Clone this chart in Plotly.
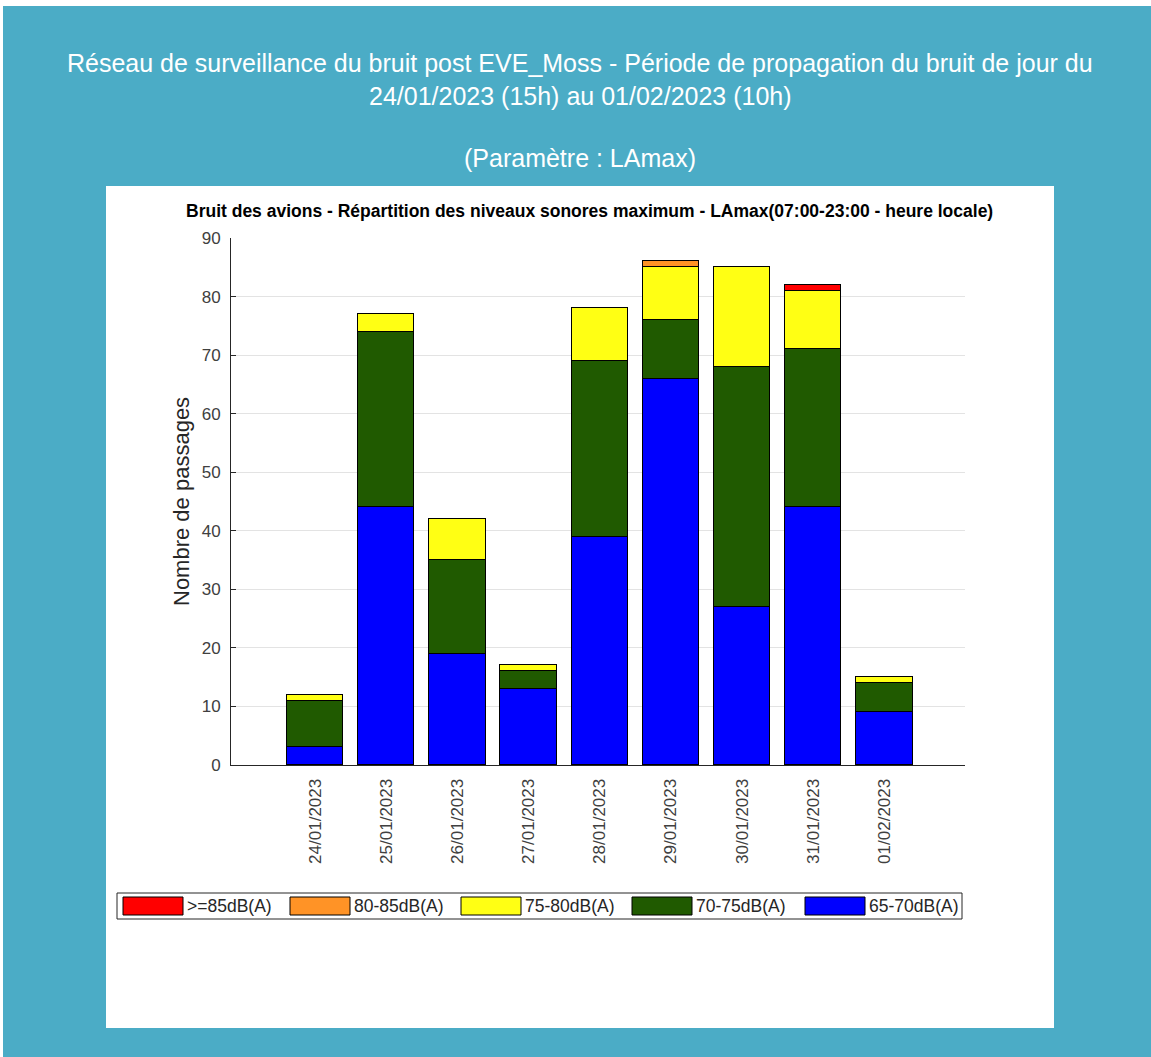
import plotly.graph_objects as go

# Data
dates = ["24/01/2023", "25/01/2023", "26/01/2023", "27/01/2023", "28/01/2023",
         "29/01/2023", "30/01/2023", "31/01/2023", "01/02/2023"]
n_65_70 = [3, 44, 19, 13, 39, 66, 27, 44, 9]
n_70_75 = [8, 30, 16, 3, 30, 10, 41, 27, 5]
n_75_80 = [1, 3, 7, 1, 9, 9, 17, 10, 1]
n_80_85 = [0, 0, 0, 0, 0, 1, 0, 0, 0]
n_85_up = [0, 0, 0, 0, 0, 0, 0, 1, 0]
classes = ["65-70dB(A)", "70-75dB(A)", "75-80dB(A)", "80-85dB(A)", ">=85dB(A)"]
colors = ["#0000FF", "#205A00", "#FFFF14", "#FF9326", "#FF0000"]

TEAL = "#4BACC6"
TXT = "#262626"
TICK = "#404040"
FONT = "Liberation Sans, Arial"

# page geometry (body margin removed in post_script)
W, H = 1151, 1057
L, R, T, B = 231, 186, 238, 292
PW, PH = W - L - R, H - T - B


def px(x):
    return (x - L) / PW


def py(y):
    return (H - B - y) / PH


fig = go.Figure()
for vals, name, col in zip([n_65_70, n_70_75, n_75_80, n_80_85, n_85_up], classes, colors):
    fig.add_trace(go.Bar(
        x=list(range(len(dates))), y=vals, name=name,
        marker=dict(color=col, line=dict(color="black", width=1)),
        width=0.79, showlegend=False,
    ))

shapes = [
    # thin white border of the original image
    dict(type="rect", xref="paper", yref="paper", layer="below",
         x0=px(0), x1=px(W), y0=py(6), y1=py(0), fillcolor="white", line=dict(width=0)),
    dict(type="rect", xref="paper", yref="paper", layer="below",
         x0=px(0), x1=px(3), y0=py(H), y1=py(0), fillcolor="white", line=dict(width=0)),
    # white panel behind the axes
    dict(type="rect", xref="paper", yref="paper", layer="below",
         x0=px(106), x1=px(1054), y0=py(1028), y1=py(186),
         fillcolor="white", line=dict(width=0)),
    # legend box
    dict(type="rect", xref="paper", yref="paper",
         x0=px(117), x1=px(962), y0=py(919), y1=py(893),
         fillcolor="white", line=dict(color=TXT, width=1)),
]
annotations = [
    dict(text="Réseau de surveillance du bruit post EVE_Moss - Période de propagation du bruit de jour du",
         x=px(580), y=py(63)),
    dict(text="24/01/2023 (15h) au 01/02/2023 (10h)", x=px(580), y=py(96)),
    dict(text="(Paramètre : LAmax)", x=px(580), y=py(158)),
]
for a in annotations:
    a.update(font=dict(family=FONT, size=25, color="white"))
annotations.append(dict(
    text="<b>Bruit des avions - Répartition des niveaux sonores maximum - LAmax(07:00-23:00 - heure locale)</b>",
    x=px(589), y=py(211), font=dict(family=FONT, size=17.5, color="black")))
annotations.append(dict(
    text="Nombre de passages", textangle=-90, x=px(181), y=py(502),
    font=dict(family=FONT, size=22, color=TXT)))
for a in annotations:
    a.update(xref="paper", yref="paper", showarrow=False, xanchor="center", yanchor="middle")

# legend drawn by hand to get the wide MATLAB-style swatches
sw_left = [123, 290, 461, 632, 805]
for x0, name, col in zip(sw_left, classes[::-1], colors[::-1]):
    shapes.append(dict(type="rect", xref="paper", yref="paper",
                       x0=px(x0), x1=px(x0 + 60), y0=py(915), y1=py(897),
                       fillcolor=col, line=dict(color="black", width=1)))
    annotations.append(dict(text=name, x=px(x0 + 62), y=py(906), xref="paper", yref="paper",
                            xanchor="left", yanchor="middle", showarrow=False,
                            font=dict(family=FONT, size=17.5, color=TXT)))

fig.update_layout(
    barmode="stack",
    width=W, height=H,
    margin=dict(l=L, r=R, t=T, b=B),
    paper_bgcolor=TEAL, plot_bgcolor="white",
    font=dict(family=FONT, color=TXT),
    shapes=shapes, annotations=annotations,
    bargap=0,
)
fig.update_xaxes(
    range=[-1.18, 9.13], tickmode="array", tickvals=list(range(len(dates))), ticktext=dates,
    tickangle=-90, tickfont=dict(size=17, color=TICK), showgrid=False, ticklabelstandoff=6,
    showline=True, linecolor=TXT, linewidth=1, ticks="", zeroline=False,
)
fig.update_yaxes(
    range=[0, 90], dtick=10, tickfont=dict(size=17, color=TICK), ticklabelstandoff=6,
    showgrid=True, gridcolor="#E3E3E3", showline=True, linecolor=TXT, linewidth=1,
    ticks="inside", ticklen=5, tickcolor=TXT, zeroline=False,
)

fig.write_html("out.html", config={"displayModeBar": False},
               post_script="document.body.style.margin='0px';document.body.style.overflow='hidden';")
